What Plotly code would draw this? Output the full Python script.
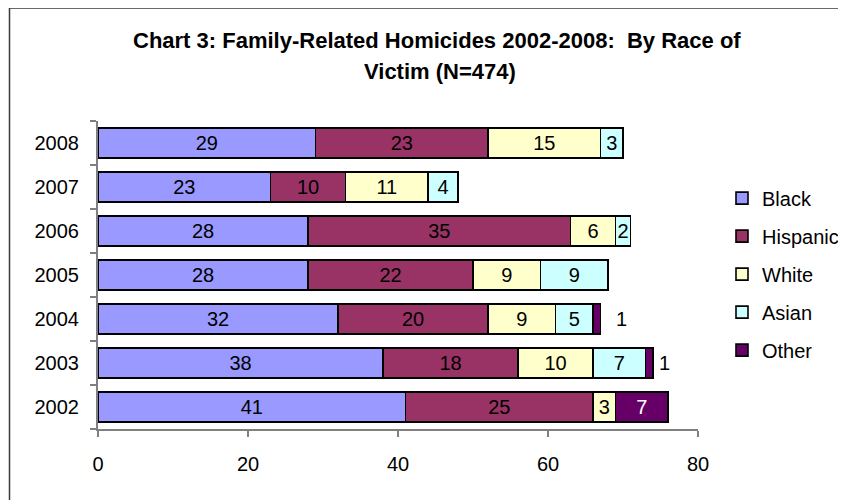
import plotly.graph_objects as go

years = ["2002", "2003", "2004", "2005", "2006", "2007", "2008"]
black = [41, 38, 32, 28, 28, 23, 29]
hispanic = [25, 18, 20, 22, 35, 10, 23]
white = [3, 10, 9, 9, 6, 11, 15]
asian = [None, 7, 5, 9, 2, 4, 3]
other = [7, 1, 1, None, None, None, None]

series = [
    ("Black", black, "#9999FF", "black"),
    ("Hispanic", hispanic, "#993366", "black"),
    ("White", white, "#FFFFCC", "black"),
    ("Asian", asian, "#CCFFFF", "black"),
    ("Other", other, "#660066", "white"),
]

FONT = "Liberation Sans, Arial, sans-serif"
# labels of thin "Other" segments are drawn beside the bar (pixel offsets)
outside_shift = {"2003": 11, "2004": 21}

fig = go.Figure()
for i, (name, vals, color, tcolor) in enumerate(series):
    txt = []
    for y, v in zip(years, vals):
        if v is None or (name == "Other" and y in outside_shift):
            txt.append("")
        else:
            txt.append(str(v))
    fig.add_trace(go.Bar(
        name=name, y=years, x=vals, orientation="h",
        marker=dict(color=color, line=dict(color="black", width=1.6)),
        text=txt, textposition="inside", insidetextanchor="middle",
        textangle=0, constraintext="none",
        textfont=dict(family=FONT, size=20, color=tcolor),
        legendgroup=name, hoverinfo="skip",
    ))

annotations = []
for idx, (y, v) in enumerate(zip(years, other)):
    if y in outside_shift and v is not None:
        total = black[idx] + hispanic[idx] + white[idx] + (asian[idx] or 0) + v
        annotations.append(dict(
            x=total, y=idx, xref="x", yref="y", text=str(v), showarrow=False,
            xanchor="center", xshift=outside_shift[y],
            font=dict(family=FONT, size=20, color="black"),
        ))

annotations.append(dict(
    x=0.565, y=(429 - 41) / 308, xref="paper", yref="paper",
    text="<b>Chart 3: Family-Related Homicides 2002-2008:  By Race of</b>",
    showarrow=False, xanchor="center", yanchor="middle",
    font=dict(family=FONT, size=22, color="black"),
))
annotations.append(dict(
    x=0.57, y=(429 - 72) / 308, xref="paper", yref="paper",
    text="<b>Victim (N=474)</b>",
    showarrow=False, xanchor="center", yanchor="middle",
    font=dict(family=FONT, size=22, color="black"),
))

fig.update_layout(
    width=846, height=500,
    margin=dict(l=90, r=156, t=113, b=79, autoexpand=False),
    barmode="stack", bargap=0.32,
    paper_bgcolor="white", plot_bgcolor="white",
    font=dict(family=FONT, size=20, color="black"),
    showlegend=True,
    legend=dict(
        x=1.04, xanchor="left", y=0.503, yanchor="middle",
        traceorder="grouped", tracegroupgap=9,
        font=dict(family=FONT, size=20, color="black"),
        itemwidth=30, bgcolor="rgba(0,0,0,0)",
    ),
    xaxis=dict(
        range=[0, 80], dtick=20, showgrid=False, zeroline=False,
        showline=True, linecolor="#808080", linewidth=2,
        ticks="outside", ticklen=6, tickcolor="#808080", tickwidth=1.5,
        ticklabelstandoff=10, automargin=False,
        tickfont=dict(family=FONT, size=20, color="black"),
    ),
    yaxis=dict(
        type="category", categoryorder="array", categoryarray=years,
        range=[-0.5, 6.5],
        showgrid=False, zeroline=False,
        showline=True, linecolor="#808080", linewidth=2,
        ticks="outside", ticklen=6, tickcolor="#808080", tickwidth=1.5,
        tickson="boundaries", ticklabelstandoff=13, automargin=False,
        tickfont=dict(family=FONT, size=20, color="black"),
    ),
    annotations=annotations,
    shapes=[dict(
        type="rect", xref="paper", yref="paper",
        x0=(9.5 - 98) / 600, x1=1.5,
        y0=-0.5, y1=(429 - 8) / 308,
        line=dict(color="#3a3a3a", width=1.5), layer="below",
    )],
)

fig.write_html("out.html")
